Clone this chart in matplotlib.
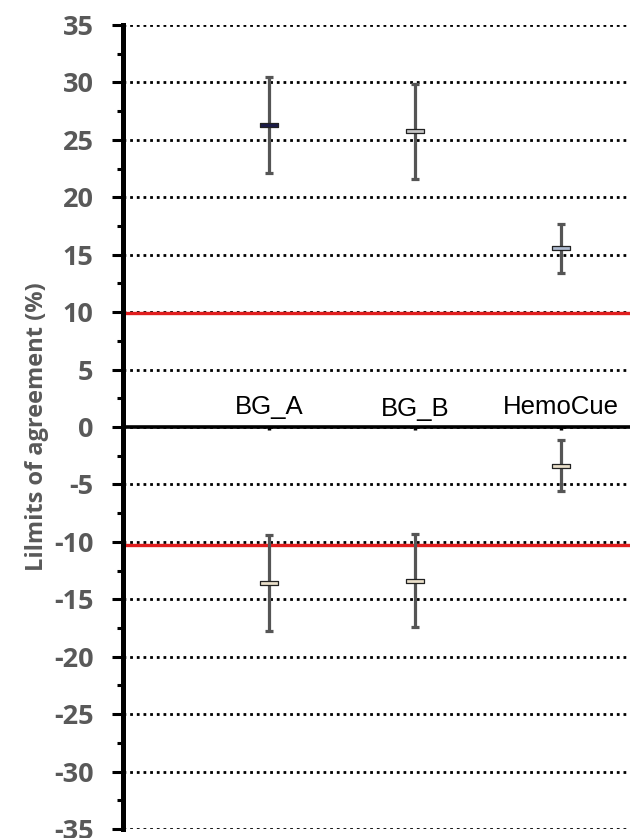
import numpy as np
import matplotlib.pyplot as plt
from matplotlib.path import Path
from matplotlib.ticker import MultipleLocator

plt.rcParams['axes.unicode_minus'] = False

# limits of agreement per device
categories = ['BG_A', 'BG_B', 'HemoCue']
upper_mean = [26.3, 25.8, 15.6]
upper_lo = [22.1, 21.6, 13.4]
upper_hi = [30.5, 29.9, 17.7]
lower_mean = [-13.6, -13.4, -3.4]
lower_lo = [-17.8, -17.4, -5.6]
lower_hi = [-9.4, -9.3, -1.1]
acceptance = [9.9, -10.3]  # red reference lines

upper_colors = ['#1c1c4a', '#c4c4c4', '#aebbd0']
lower_colors = ['#eadfca', '#eadfca', '#eadfca']

fig = plt.figure(figsize=(6.3, 8.38), dpi=100)
ax = fig.add_axes([0.195, 0.0107, 0.805, 0.9595])

x = np.arange(1, len(categories) + 1)
bar = Path([(-1, -0.22), (1, -0.22), (1, 0.22), (-1, 0.22), (-1, -0.22)],
           [Path.MOVETO, Path.LINETO, Path.LINETO, Path.LINETO, Path.CLOSEPOLY])

ax.grid(axis='y', which='major', color='black', linestyle=(0, (1, 1.4)), linewidth=2.0)
ax.set_axisbelow(True)

for y in acceptance:
    ax.axhline(y, color='#e01e1e', linewidth=2.4, zorder=2)

for mean, lo, hi, cols in [(upper_mean, upper_lo, upper_hi, upper_colors),
                           (lower_mean, lower_lo, lower_hi, lower_colors)]:
    mean = np.array(mean)
    err = [mean - np.array(lo), np.array(hi) - mean]
    ax.errorbar(x, mean, yerr=err, fmt='none', ecolor='#555555',
                elinewidth=2.3, capsize=3, capthick=2.3, zorder=3)
    for xi, m, c in zip(x, mean, cols):
        ax.plot(xi, m, marker=bar, markersize=13, markerfacecolor=c,
                markeredgecolor='#222222', markeredgewidth=0.9, zorder=4)

# category names sit just above the zero line
offsets = [1.15, 0.95, 1.15]
for xi, name, off in zip(x, categories, offsets):
    ax.text(xi, off, name, ha='center', va='baseline', fontsize=18.5,
            family='Liberation Sans', color='black')

ax.set_xlim(0, 3.473)
ax.set_ylim(-35, 35)
ax.yaxis.set_major_locator(MultipleLocator(5))
ax.yaxis.set_minor_locator(MultipleLocator(2.5))
ax.set_xticks(x)
ax.set_xticklabels([])

ax.spines['top'].set_visible(False)
ax.spines['right'].set_visible(False)
ax.spines['left'].set_linewidth(3.6)
ax.spines['bottom'].set_position(('data', 0))
ax.spines['bottom'].set_linewidth(2.6)

ax.tick_params(axis='y', which='major', length=8, width=2.2, pad=13,
               labelsize=19.5, labelcolor='#595959')
ax.tick_params(axis='y', which='minor', length=4.5, width=2.2)
ax.tick_params(axis='x', which='major', length=2.5, width=2.5, direction='out')
for lab in ax.get_yticklabels():
    lab.set_fontweight('bold')
    lab.set_family('Open Sans')

ax.set_ylabel('Lilmits of agreement (%)', fontsize=17, color='#595959',
              fontweight='bold', family='Open Sans', labelpad=4)

fig.savefig('out.png', dpi=100)
